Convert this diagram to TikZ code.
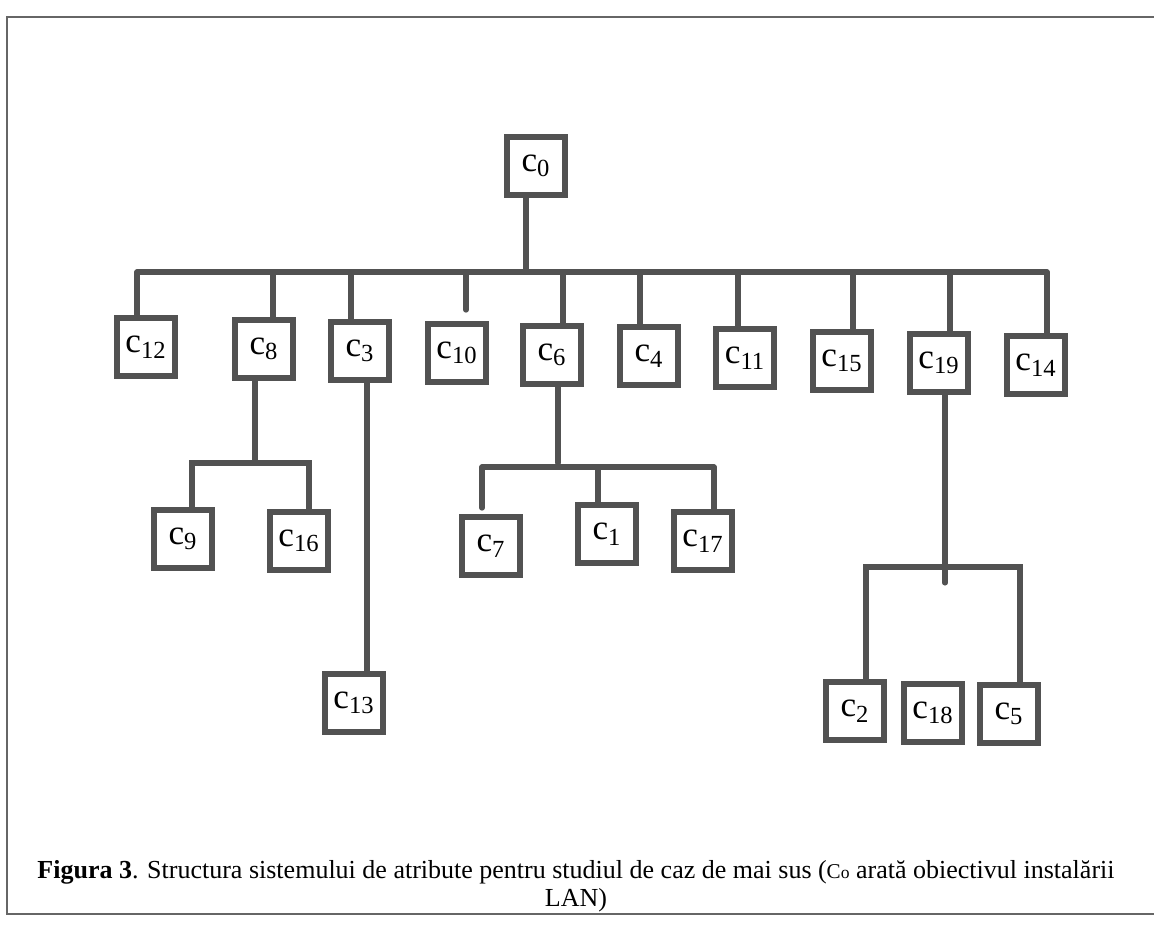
\documentclass[tikz,border=0pt]{standalone}
\usepackage{fontspec}
\setmainfont{Liberation Serif}
\usetikzlibrary{positioning}

\begin{document}
\begin{tikzpicture}[x=0.02cm,y=-0.02cm,line cap=round]
  % Colors
  \colorlet{boxcolor}{black!68}
  \colorlet{linkcolor}{black!68}
  \colorlet{framecolor}{black!60}

  % Styles
  \tikzstyle{attr box}=[draw=boxcolor,line width=3.3pt,minimum size=1.16cm,
    inner sep=0pt,font=\fontsize{20}{24}\selectfont]
  \tikzstyle{link}=[draw=linkcolor,line width=3pt]
  \tikzstyle{frame}=[draw=framecolor,line width=1.2pt]

  % Frame and bounding box
  \useasboundingbox (0,0) rectangle (1154,927);
  \draw[style=frame] (1154,17) -- (7,17) -- (7,914) -- (1154,914);

  % Root
  \node[attr box] (c0) at (536,166) {c\textsubscript{0}};
  \coordinate (bar) at (0,272);

  % First level
  \foreach \n/\x/\y in {12/146/347, 8/264/349, 3/360/351, 10/457/353, 6/552/355,
      4/649/356, 11/745/358, 15/842/361, 19/939/363, 14/1036/365}
    \node[attr box] (c\n) at (\x,\y) {c\textsubscript{\n}};

  \draw[link] ([xshift=-0.2cm]c0.south) -- ([xshift=-0.2cm]c0.south |- bar);
  \draw[link] ([xshift=-0.18cm]c12.north |- bar) -- ([xshift=0.22cm]c14.north |- bar);
  \foreach \n/\dx in {12/-0.18, 8/0.18, 3/-0.18, 6/0.22, 4/-0.18, 11/-0.14,
      15/0.22, 19/0.22, 14/0.22}
    \draw[link] ([xshift=\dx cm]c\n.north |- bar) -- ([xshift=\dx cm]c\n.north);
  \draw[link] ([xshift=0.18cm]c10.north |- bar) -- ++(0,38);

  % Under c8
  \node[attr box] (c9) at (183,539) {c\textsubscript{9}};
  \node[attr box] (c16) at (299,541) {c\textsubscript{16}};
  \draw[link] ([xshift=-0.18cm]c8.south) -- ++(0,82) coordinate (s8);
  \draw[link] ([xshift=0.18cm]c9.north) |- (s8) -| ([xshift=0.2cm]c16.north);

  % Under c3
  \node[attr box] (c13) at (354,703) {c\textsubscript{13}};
  \draw[link] ([xshift=0.14cm]c3.south) -- ([xshift=0.14cm]c3.south |- c13.north);

  % Under c6
  \node[attr box] (c7) at (491,546) {c\textsubscript{7}};
  \node[attr box] (c1) at (607,534) {c\textsubscript{1}};
  \node[attr box] (c17) at (703,541) {c\textsubscript{17}};
  \draw[link] ([xshift=0.12cm]c6.south) -- ++(0,76);
  \coordinate (s6) at (0,467);
  \draw[link] ([xshift=-0.18cm]c7.north |- s6) -- ([xshift=0.22cm]c17.north |- s6);
  \draw[link] ([xshift=-0.18cm]c7.north |- s6) -- ++(0,41);
  \draw[link] ([xshift=-0.18cm]c1.north |- s6) -- ([xshift=-0.18cm]c1.north);
  \draw[link] ([xshift=0.22cm]c17.north |- s6) -- ([xshift=0.22cm]c17.north);

  % Under c19
  \node[attr box] (c2) at (855,711) {c\textsubscript{2}};
  \node[attr box] (c18) at (933,713) {c\textsubscript{18}};
  \node[attr box] (c5) at (1009,714) {c\textsubscript{5}};
  \draw[link] ([xshift=0.12cm]c19.south) -- ++(0,188) coordinate (e19);
  \draw[link] ([xshift=0.22cm]c2.north) |- ([xshift=0.12cm]c19.south |- 0,567)
    -| ([xshift=0.22cm]c5.north);

  % Caption
  \node[align=center,font=\fontsize{14.8}{16}\selectfont] (caption) at (576,886)
    {\textbf{Figura 3}. Structura sistemului de atribute pentru studiul de caz de mai sus
     ({\fontsize{12}{14}\selectfont C}{\fontsize{10}{12}\selectfont o} arată obiectivul instalării\\LAN)};
\end{tikzpicture}
\end{document}
